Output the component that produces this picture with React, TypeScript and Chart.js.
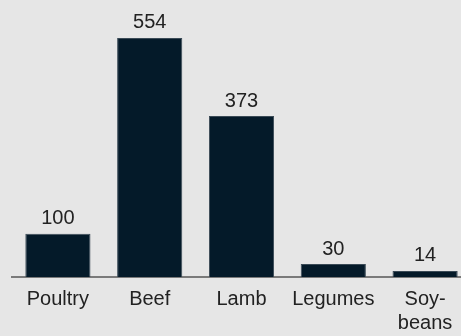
import React, { useEffect, useRef } from "react";
import { Chart, registerables } from "chart.js";

Chart.register(...registerables);

const categories: (string | string[])[] = ["Poultry", "Beef", "Lamb", "Legumes", ["Soy-", "beans"]];
const values: number[] = [100, 554, 373, 30, 14];

const FONT = "'Liberation Sans', Arial, Helvetica, sans-serif";

const valueLabels = {
  id: "valueLabels",
  afterDatasetsDraw(chart: any) {
    const ctx = chart.ctx;
    const meta = chart.getDatasetMeta(0);
    ctx.save();
    ctx.font = `20px ${FONT}`;
    ctx.fillStyle = "#222222";
    ctx.textAlign = "center";
    ctx.textBaseline = "alphabetic";
    meta.data.forEach((bar: any, i: number) => {
      ctx.fillText(String(values[i]), bar.x, bar.y - 9.5);
    });
    ctx.restore();
  },
};

export default function App() {
  const ref = useRef<HTMLCanvasElement>(null);
  useEffect(() => {
    if (!ref.current) return;
    const chart = new Chart(ref.current, {
      type: "bar",
      data: {
        labels: categories,
        datasets: [
          {
            data: values,
            backgroundColor: "#041a29",
            borderColor: "#3a4a56",
            borderWidth: 1,
            barPercentage: 0.71,
            categoryPercentage: 1,
          },
        ],
      },
      options: {
        responsive: false,
        animation: false,
        layout: { padding: { left: 12, right: 0, top: 0, bottom: 0 } },
        plugins: { legend: { display: false }, tooltip: { enabled: false } },
        scales: {
          y: { display: false, min: 0, max: 642 },
          x: {
            grid: { display: false, drawTicks: false },
            border: { display: true, color: "#7a7a7a", width: 2 },
            ticks: {
              color: "#222222",
              padding: 10,
              font: { size: 20, family: FONT, lineHeight: 1.2 },
              maxRotation: 0,
              autoSkip: false,
            },
          },
        },
      },
      plugins: [valueLabels],
    });
    return () => chart.destroy();
  }, []);
  return (
    <div
      style={{
        position: "fixed",
        left: 0,
        top: 0,
        width: 461,
        height: 336,
        overflow: "hidden",
        background: "#e6e6e6",
      }}
    >
      <canvas ref={ref} width={471} height={345} style={{ display: "block", width: 471, height: 345 }} />
    </div>
  );
}
